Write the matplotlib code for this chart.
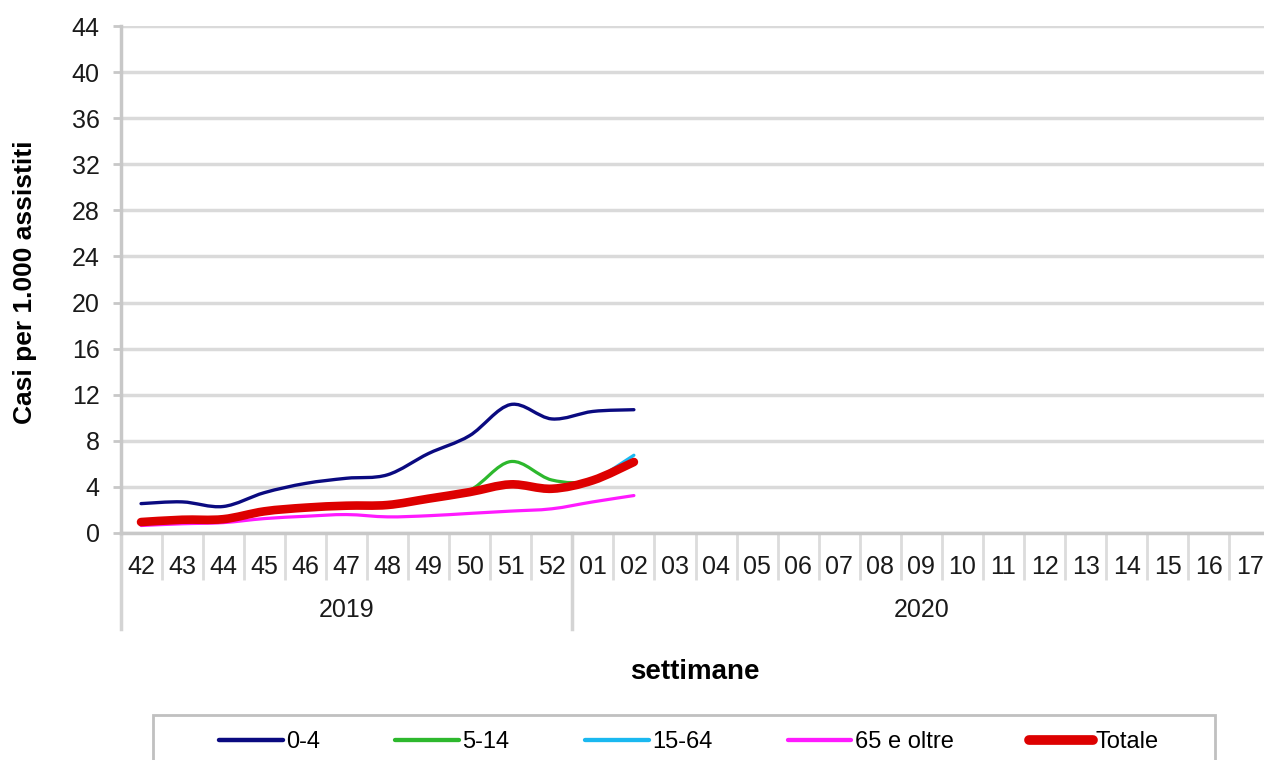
import matplotlib
matplotlib.use("Agg")
import matplotlib.pyplot as plt
from matplotlib.path import Path
from matplotlib.patches import PathPatch, Rectangle
from matplotlib.lines import Line2D
import matplotlib.transforms as mtransforms

plt.rcParams['font.family'] = ['Liberation Sans', 'DejaVu Sans']

# weeks 42/2019 .. 17/2020
weeks = ['42', '43', '44', '45', '46', '47', '48', '49', '50', '51', '52',
         '01', '02', '03', '04', '05', '06', '07', '08', '09', '10', '11',
         '12', '13', '14', '15', '16', '17']
years = ['2019', '2020']
year_sizes = [11, 17]

# values available up to week 02/2020
age_0_4 = [2.55, 2.7, 2.3, 3.5, 4.3, 4.75, 5.05, 6.9, 8.45, 11.15, 9.9, 10.55, 10.7]
age_5_14 = [0.85, 1.05, 0.95, 1.8, 2.2, 2.4, 2.45, 3.0, 3.7, 6.2, 4.6, 4.55, 6.3]
age_15_64 = [0.95, 1.15, 1.2, 1.85, 2.2, 2.35, 2.4, 2.95, 3.5, 4.2, 3.85, 4.6, 6.75]
age_65 = [0.65, 0.8, 0.9, 1.25, 1.45, 1.6, 1.4, 1.5, 1.7, 1.9, 2.1, 2.7, 3.25]
totale = [0.95, 1.15, 1.2, 1.88, 2.2, 2.37, 2.43, 2.98, 3.55, 4.22, 3.84, 4.57, 6.16]

series = [
    ('0-4', age_0_4, '#0a0a80', 2.4),
    ('5-14', age_5_14, '#2db82d', 2.3),
    ('15-64', age_15_64, '#1ab8f0', 2.3),
    ('65 e oltre', age_65, '#ff1aff', 2.3),
    ('Totale', totale, '#dd0000', 6.2),
]


def smooth_path(xs, ys):
    # Bezier segments like a spreadsheet "smoothed line"
    pts = list(zip(xs, ys))
    verts = [pts[0]]
    codes = [Path.MOVETO]
    n = len(pts)
    for i in range(n - 1):
        p0 = pts[i - 1] if i > 0 else pts[i]
        p1 = pts[i]
        p2 = pts[i + 1]
        p3 = pts[i + 2] if i + 2 < n else pts[i + 1]
        c1 = (p1[0] + (p2[0] - p0[0]) / 6, p1[1] + (p2[1] - p0[1]) / 6)
        c2 = (p2[0] - (p3[0] - p1[0]) / 6, p2[1] - (p3[1] - p1[1]) / 6)
        verts += [c1, c2, p2]
        codes += [Path.CURVE4] * 3
    return Path(verts, codes)


W, H = 1264, 760
fig = plt.figure(figsize=(W / 100, H / 100), dpi=100)
ax = fig.add_axes([120.5 / W, 227 / H, 1150 / W, 507 / H])

grid_col = '#dadada'
ax.set_xlim(-0.5, len(weeks) - 0.5)
ax.set_ylim(0, 44)
ax.set_yticks(range(0, 45, 4))
ax.yaxis.grid(True, color=grid_col, linewidth=2.5)
ax.set_axisbelow(True)

for side in ['top', 'right']:
    ax.spines[side].set_visible(False)
ax.spines['left'].set_color('#c8c8c8')
ax.spines['left'].set_linewidth(2.5)
ax.spines['bottom'].set_color('#c8c8c8')
ax.spines['bottom'].set_linewidth(2.5)

ax.tick_params(axis='y', length=6, width=2, color='#c8c8c8', labelsize=18,
               labelcolor='#1a1a1a', pad=9)
ax.set_xticks(range(len(weeks)))
ax.set_xticklabels(weeks)
ax.tick_params(axis='x', which='major', length=0, labelsize=18,
               labelcolor='#1a1a1a', pad=16)
ax.set_xticks([i - 0.5 for i in range(1, len(weeks))], minor=True)
ax.tick_params(axis='x', which='minor', length=34, width=2, color='#dcdcdc')

# year group separators and labels
trans = mtransforms.blended_transform_factory(ax.transData, ax.transAxes)
start = 0
for yr, size in zip(years, year_sizes):
    ax.plot([start - 0.5, start - 0.5], [0, -0.19], transform=trans,
            color='#d4d4d4', linewidth=2.5, clip_on=False)
    ax.text(start + size / 2 - 0.5, -0.152, yr, transform=trans,
            ha='center', va='center', fontsize=18, color='#1a1a1a')
    start += size

xs = list(range(len(age_0_4)))
handles = []
for name, vals, col, lw in series:
    patch = PathPatch(smooth_path(xs, vals), facecolor='none', edgecolor=col,
                      linewidth=lw, capstyle='round', joinstyle='round',
                      transform=ax.transData)
    ax.add_patch(patch)
    handles.append(Line2D([], [], color=col, linewidth=lw + 0.8,
                          solid_capstyle='round', label=name))

fig.text(25 / W, 1 - 282 / H, 'Casi per 1.000 assistiti', rotation=90,
         ha='center', va='center', fontsize=19, fontweight='bold')
fig.text(695 / W, 1 - 672 / H, 'settimane', ha='center', va='center',
         fontsize=20, fontweight='bold')

# legend frame runs past the bottom edge of the picture
fig.patches.append(Rectangle((153 / W, -12 / H), (1215 - 153) / W, (45 + 12) / H,
                             transform=fig.transFigure, facecolor='white',
                             edgecolor='#c0c0c0', linewidth=2))
fig.legend(handles=handles, loc='center', ncol=5,
           bbox_to_anchor=(689 / W, 1 - 742 / H),
           fontsize=17, frameon=False,
           handlelength=2.7, handletextpad=0.13, columnspacing=3.2,
           borderpad=0, borderaxespad=0)

fig.savefig('out.png', dpi=100)
